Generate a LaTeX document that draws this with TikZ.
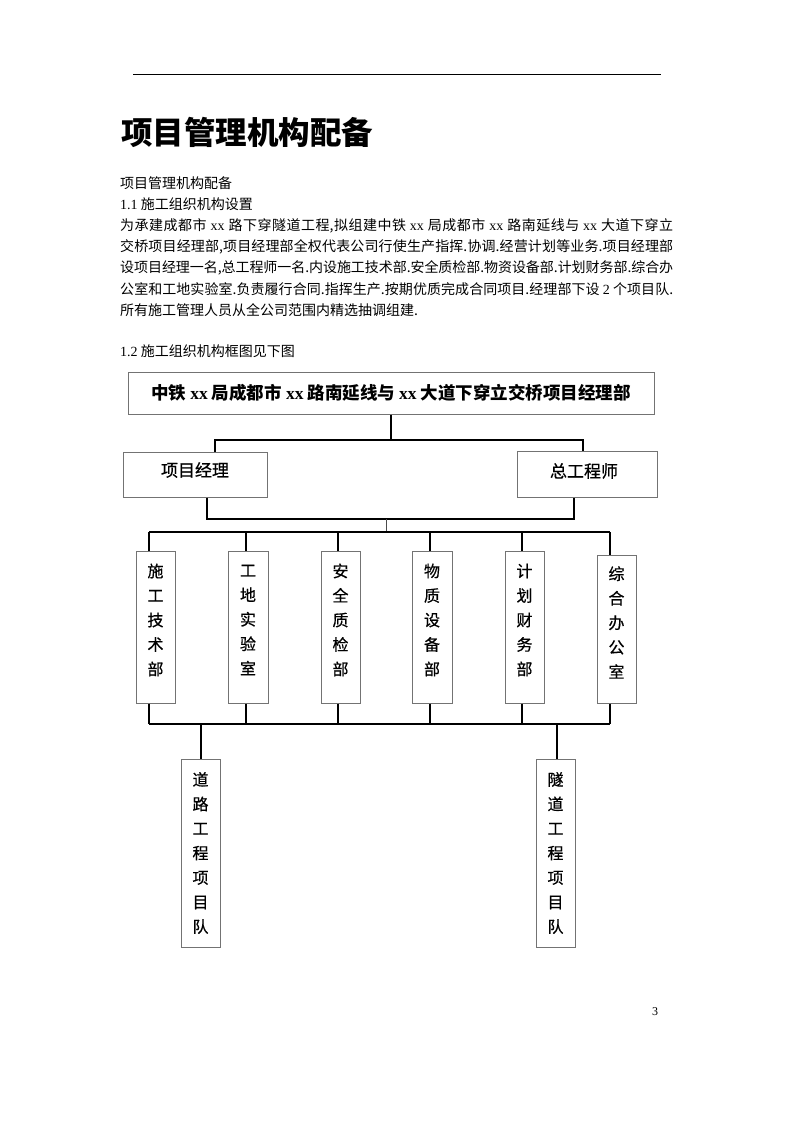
\documentclass[tikz,border=0pt]{standalone}
\usepackage{fontspec}
\setmainfont{Noto Sans CJK SC}
\newfontfamily\lat{Liberation Serif}
\newfontfamily\boxfont[FakeBold=0.6]{Noto Sans CJK SC}
\XeTeXlinebreaklocale "zh"
\XeTeXlinebreakskip=0pt plus 1pt minus 0.4pt
\tikzset{
  bodyline/.style={anchor=west, inner sep=0pt, text width=553pt, align=justify, font=\fontsize{14}{16}\selectfont},
  plainline/.style={anchor=west, inner sep=0pt, font=\fontsize{14}{16}\selectfont},
  orgbox/.style={draw=black!55, line width=1pt, fill=white, inner sep=0pt},
  vtext/.style={align=center, inner sep=0pt, font=\boxfont\fontsize{16}{24.5}\selectfont},
  conn/.style={draw=black, line width=1.5pt}
}
\begin{document}
\begin{tikzpicture}[x=1pt,y=-1pt]
\useasboundingbox[fill=white] (0,0) rectangle (794,1123);
% header rule
\coordinate (hr1) at (133,74);
\coordinate (hr2) at (661,74);
\draw[line width=0.9pt] (hr1) -- (hr2);
% title and text
\node[anchor=west, inner sep=0pt, font=\fontsize{31.5}{34}\selectfont\bfseries] (title) at (121,132) {项目管理机构配备};
\node[plainline] (s0) at (120,183) {项目管理机构配备};
\node[plainline] (s1) at (120,204) {{\lat 1.1} 施工组织机构设置};
\node[bodyline] (p1) at (120,226) {\parfillskip=0pt 为承建成都市 {\lat xx} 路下穿隧道工程,拟组建中铁 {\lat xx} 局成都市 {\lat xx} 路南延线与 {\lat xx} 大道下穿立\par};
\node[bodyline] (p2) at (120,247) {\parfillskip=0pt 交桥项目经理部,项目经理部全权代表公司行使生产指挥.协调.经营计划等业务.项目经理部\par};
\node[bodyline] (p3) at (120,268) {\parfillskip=0pt 设项目经理一名,总工程师一名.内设施工技术部.安全质检部.物资设备部.计划财务部.综合办\par};
\node[bodyline] (p4) at (120,289) {\parfillskip=0pt 公室和工地实验室.负责履行合同.指挥生产.按期优质完成合同项目.经理部下设 {\lat 2} 个项目队.\par};
\node[plainline] (p5) at (120,310) {所有施工管理人员从全公司范围内精选抽调组建.};
\node[plainline] (s2) at (120,351) {{\lat 1.2} 施工组织机构框图见下图};
% org chart boxes
\node[orgbox, minimum width=526pt, minimum height=42pt, font=\fontsize{17.5}{20}\selectfont\bfseries] (top) at (391,393)
  {中铁 {\lat\bfseries xx} 局成都市 {\lat\bfseries xx} 路南延线与 {\lat\bfseries xx} 大道下穿立交桥项目经理部};
\node[orgbox, minimum width=144pt, minimum height=45pt] (pm) at (195,474.5) {};
\node[font=\boxfont\fontsize{17}{20}\selectfont, inner sep=0pt] (pmt) at (195,470) {项目经理};
\node[orgbox, minimum width=140pt, minimum height=46pt] (ce) at (587,474) {};
\node[font=\boxfont\fontsize{17}{20}\selectfont, inner sep=0pt] (cet) at (584,471) {总工程师};
\node[orgbox, minimum width=39pt, minimum height=152pt] (b1) at (155.5,627) {};
\node[orgbox, minimum width=40pt, minimum height=152pt] (b2) at (248,627) {};
\node[orgbox, minimum width=39pt, minimum height=152pt] (b3) at (340.5,627) {};
\node[orgbox, minimum width=40pt, minimum height=152pt] (b4) at (432,627) {};
\node[orgbox, minimum width=39pt, minimum height=152pt] (b5) at (524.5,627) {};
\node[orgbox, minimum width=39pt, minimum height=148pt] (b6) at (616.5,629) {};
\node[vtext] (b1t) at ([yshift=7pt]b1.center) {施\\工\\技\\术\\部};
\node[vtext] (b2t) at ([yshift=7pt]b2.center) {工\\地\\实\\验\\室};
\node[vtext] (b3t) at ([yshift=7pt]b3.center) {安\\全\\质\\检\\部};
\node[vtext] (b4t) at ([yshift=7pt]b4.center) {物\\质\\设\\备\\部};
\node[vtext] (b5t) at ([yshift=7pt]b5.center) {计\\划\\财\\务\\部};
\node[vtext] (b6t) at ([yshift=6.5pt]b6.center) {综\\合\\办\\公\\室};
\node[orgbox, minimum width=39pt, minimum height=188pt] (t1) at (200.5,853) {};
\node[orgbox, minimum width=39pt, minimum height=188pt] (t2) at (555.5,853) {};
\node[vtext] (t1t) at (t1.center) {道\\路\\工\\程\\项\\目\\队};
\node[vtext] (t2t) at (t2.center) {隧\\道\\工\\程\\项\\目\\队};
% connectors
\coordinate (u1) at (215,440);
\coordinate (u2) at (583,440);
\draw[conn] (top.south) -- (top.south |- u1);
\draw[conn] (pm.north -| u1) -- (u1) -- (u2) -- (ce.north -| u2);
\coordinate (l1) at (207,519);
\coordinate (l2) at (574,519);
\draw[conn] (pm.south -| l1) -- (l1) -- (l2) -- (ce.south -| l2);
\coordinate (tk) at (386,519);
\coordinate (bus) at (0,532);
\coordinate (bot) at (0,724);
\draw[line width=0.8pt, black!70] (tk) -- (tk |- bus);
\coordinate (x1) at (149,532);
\coordinate (x2) at (246,532);
\coordinate (x3) at (338,532);
\coordinate (x4) at (430,532);
\coordinate (x5) at (522,532);
\coordinate (x6) at (610,532);
\draw[conn] (x1) -- (x6);
\draw[conn] (x1 |- bot) -- (x6 |- bot);
\foreach \i in {1,...,6} {
  \draw[conn] (x\i) -- (x\i |- b\i.north);
  \draw[conn] (x\i |- b\i.south) -- (x\i |- bot);
}
\coordinate (d1) at (201,724);
\coordinate (d2) at (557,724);
\draw[conn] (d1) -- (d1 |- t1.north);
\draw[conn] (d2) -- (d2 |- t2.north);
% page number
\node[inner sep=0pt, font=\lat\fontsize{12}{14}\selectfont] (pg) at (655,1012) {3};
\end{tikzpicture}
\end{document}
